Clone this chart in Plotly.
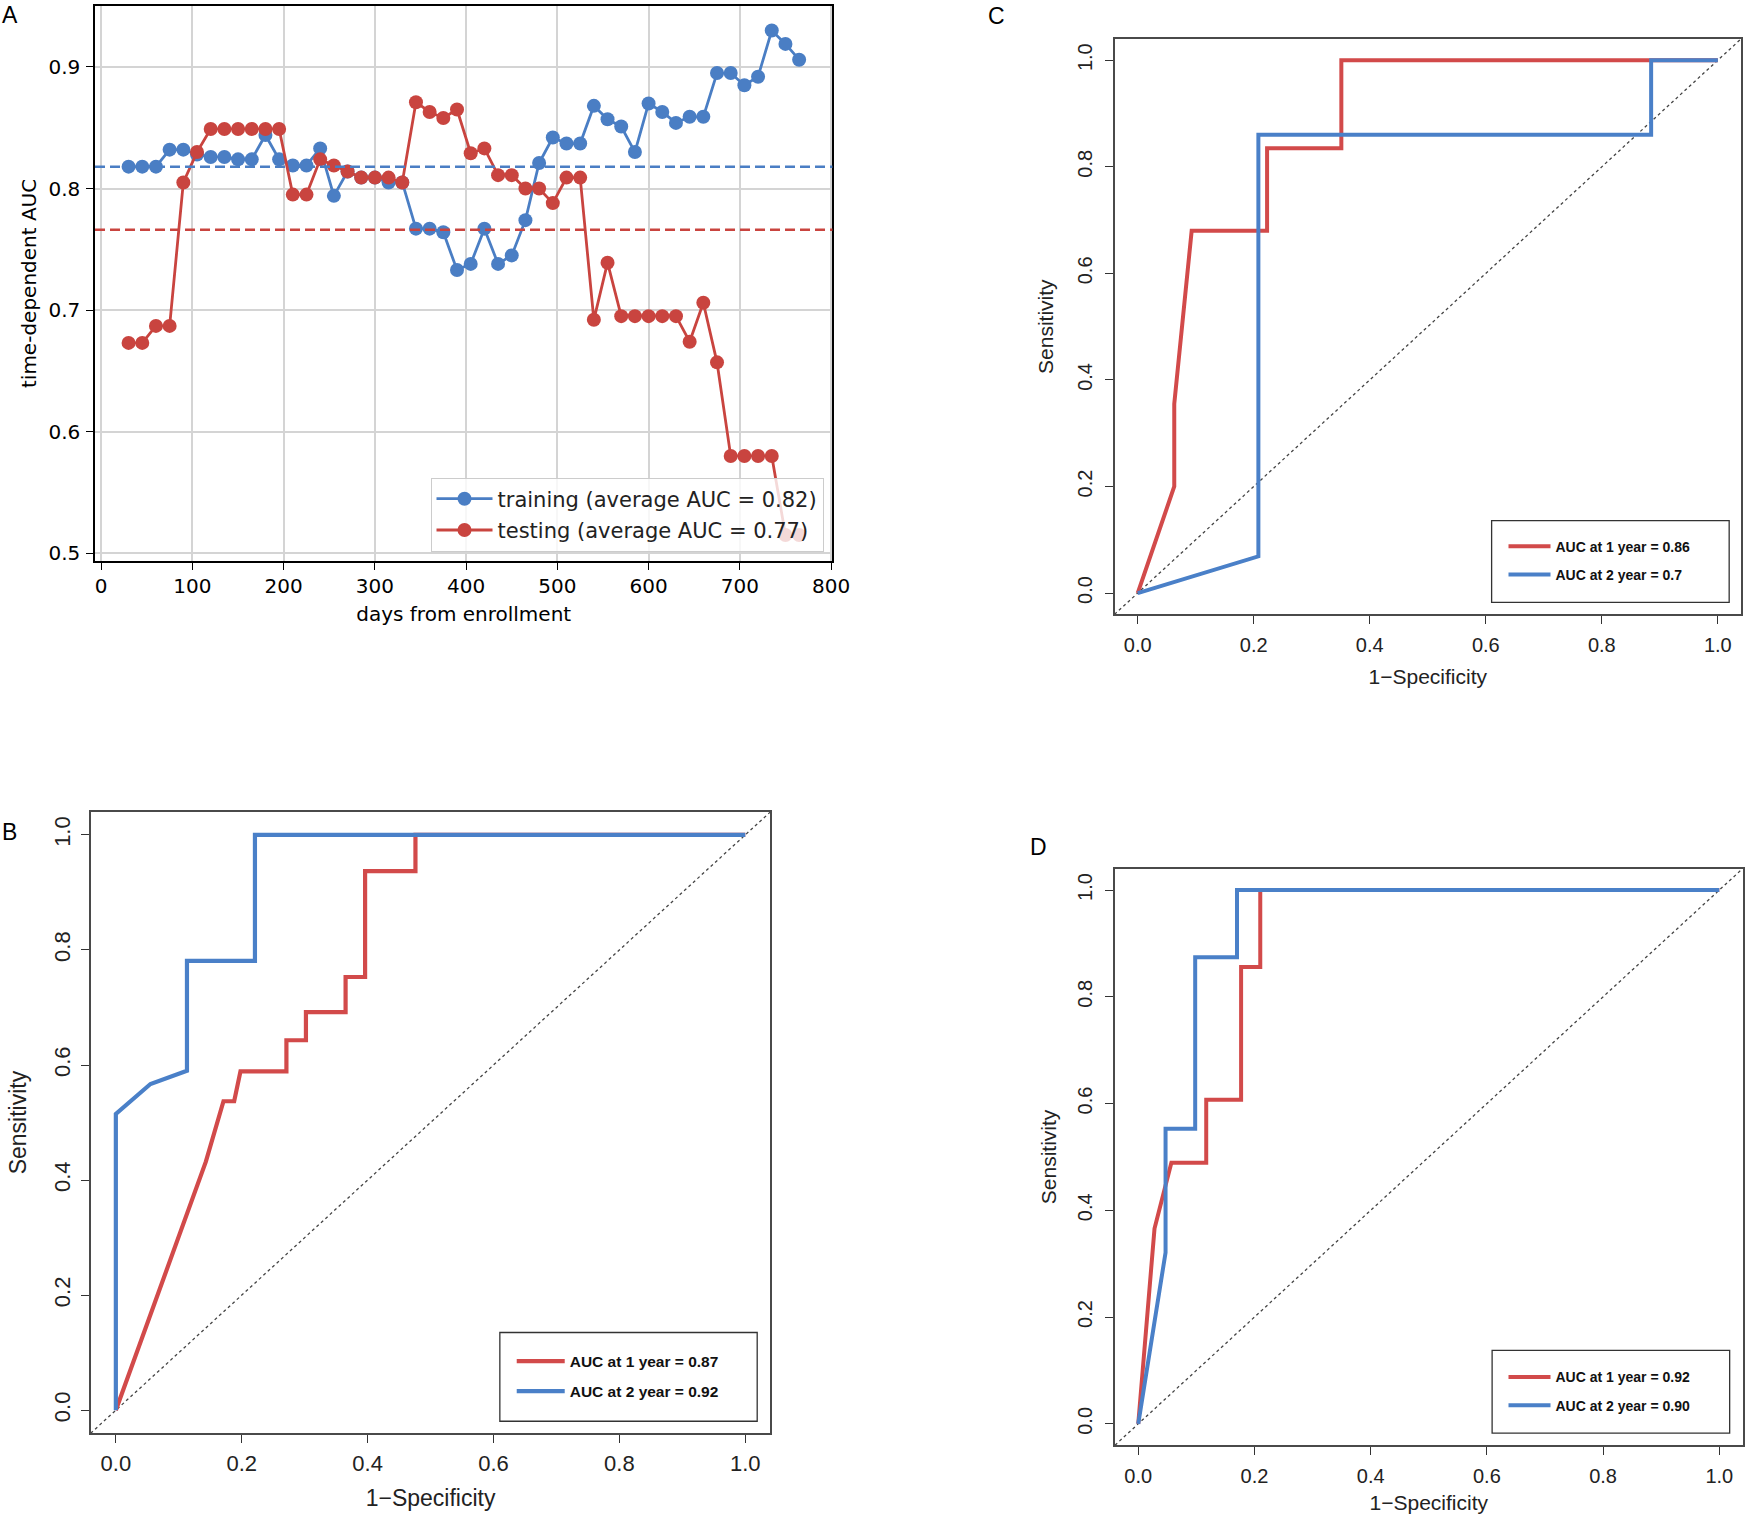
import plotly.graph_objects as go

W, H = 1764, 1522

# ---- panel A: time-dependent AUC ----
days = [30, 45, 60, 75, 90, 105, 120, 135, 150, 165, 180, 195, 210, 225, 240, 255, 270,
        285, 300, 315, 330, 345, 360, 375, 390, 405, 420, 435, 450, 465, 480, 495, 510,
        525, 540, 555, 570, 585, 600, 615, 630, 645, 660, 675, 690, 705, 720, 735, 750, 765]
auc_train = [0.818, 0.818, 0.818, 0.832, 0.832, 0.828, 0.826, 0.826, 0.824, 0.824,
             0.844, 0.824, 0.819, 0.819, 0.833, 0.794, 0.814, 0.809, 0.809, 0.805,
             0.805, 0.767, 0.767, 0.764, 0.733, 0.738, 0.767, 0.738, 0.745, 0.774,
             0.821, 0.842, 0.837, 0.837, 0.868, 0.857, 0.851, 0.830, 0.870, 0.863,
             0.854, 0.859, 0.859, 0.895, 0.895, 0.885, 0.892, 0.930, 0.919, 0.906]
auc_test = [0.673, 0.673, 0.687, 0.687, 0.805, 0.830, 0.849, 0.849, 0.849, 0.849,
            0.849, 0.849, 0.795, 0.795, 0.824, 0.819, 0.814, 0.809, 0.809, 0.809,
            0.805, 0.871, 0.863, 0.858, 0.865, 0.829, 0.833, 0.811, 0.811, 0.800,
            0.800, 0.788, 0.809, 0.809, 0.692, 0.739, 0.695, 0.695, 0.695, 0.695,
            0.695, 0.674, 0.706, 0.657, 0.580, 0.580, 0.580, 0.580, 0.515, 0.515]
mean_train = 0.818
mean_test = 0.766

# ---- ROC curves (1-specificity, sensitivity) ----
b_fpr_1y = [0.0, 0.143, 0.171, 0.188, 0.198, 0.271, 0.271, 0.302, 0.302, 0.365, 0.365, 0.396, 0.396, 0.476, 0.476, 1.0]
b_tpr_1y = [0.0, 0.432, 0.537, 0.537, 0.589, 0.589, 0.643, 0.643, 0.692, 0.692, 0.753, 0.753, 0.937, 0.937, 1.0, 1.0]
b_fpr_2y = [0.0, 0.0, 0.055, 0.113, 0.113, 0.221, 0.221, 1.0]
b_tpr_2y = [0.0, 0.515, 0.567, 0.590, 0.781, 0.781, 1.0, 1.0]

c_fpr_1y = [0.0, 0.063, 0.063, 0.093, 0.223, 0.223, 0.351, 0.351, 1.0]
c_tpr_1y = [0.0, 0.200, 0.355, 0.680, 0.680, 0.835, 0.835, 1.0, 1.0]
c_fpr_2y = [0.0, 0.208, 0.208, 0.885, 0.885, 1.0]
c_tpr_2y = [0.0, 0.069, 0.860, 0.860, 1.0, 1.0]

d_fpr_1y = [0.0, 0.028, 0.057, 0.117, 0.117, 0.177, 0.177, 0.210, 0.210, 1.0]
d_tpr_1y = [0.0, 0.366, 0.489, 0.489, 0.607, 0.607, 0.856, 0.856, 1.0, 1.0]
d_fpr_2y = [0.0, 0.047, 0.047, 0.098, 0.098, 0.170, 0.170, 1.0]
d_tpr_2y = [0.0, 0.321, 0.553, 0.553, 0.874, 0.874, 1.0, 1.0]

labels_b = ["AUC at 1 year = 0.87", "AUC at 2 year = 0.92"]
labels_c = ["AUC at 1 year = 0.86", "AUC at 2 year = 0.7"]
labels_d = ["AUC at 1 year = 0.92", "AUC at 2 year = 0.90"]

diag = [-0.04, 1.04]

BLUE_A, RED_A = "#4a7ec4", "#c9443f"
BLUE, RED = "#4a80c8", "#d24a4a"


def px_x(p):
    return min(1.0, max(0.0, p / W))


def px_y(p):
    return min(1.0, max(0.0, 1 - p / H))


fig = go.Figure()

# panel A traces
fig.add_trace(go.Scatter(x=days, y=auc_train, mode="lines+markers", name="training (average AUC = 0.82)",
                         line=dict(color=BLUE_A, width=2.8), marker=dict(size=14, color=BLUE_A),
                         xaxis="x", yaxis="y", legend="legend", legendgroup="tr"))
fig.add_trace(go.Scatter(x=days, y=auc_test, mode="lines+markers", name="testing (average AUC = 0.77)",
                         line=dict(color=RED_A, width=2.8), marker=dict(size=14, color=RED_A),
                         xaxis="x", yaxis="y", legend="legend", legendgroup="te"))

# ROC panels
panels = [
    ("x2", "y2", "legend2", b_fpr_1y, b_tpr_1y, b_fpr_2y, b_tpr_2y, labels_b, 4.2),
    ("x3", "y3", "legend3", c_fpr_1y, c_tpr_1y, c_fpr_2y, c_tpr_2y, labels_c, 4),
    ("x4", "y4", "legend4", d_fpr_1y, d_tpr_1y, d_fpr_2y, d_tpr_2y, labels_d, 4),
]
for xa, ya, lg, f1, t1, f2, t2, labs, lw in panels:
    fig.add_trace(go.Scatter(x=diag, y=diag, mode="lines", showlegend=False, hoverinfo="skip",
                             line=dict(color="#444444", width=1.3, dash="3px,3px"), xaxis=xa, yaxis=ya))
    fig.add_trace(go.Scatter(x=f1, y=t1, mode="lines", name=labs[0], line=dict(color=RED, width=lw),
                             xaxis=xa, yaxis=ya, legend=lg, legendgroup=lg + "a"))
    fig.add_trace(go.Scatter(x=f2, y=t2, mode="lines", name=labs[1], line=dict(color=BLUE, width=lw),
                             xaxis=xa, yaxis=ya, legend=lg, legendgroup=lg + "b"))

FA = "DejaVu Sans"
FR = "Liberation Sans"

axA = dict(showline=True, mirror=True, linecolor="black", linewidth=1.6, ticks="outside", ticklen=7,
           tickwidth=1.3, tickcolor="black", showgrid=True, gridcolor="#d4d4d4", gridwidth=1.5,
           zeroline=False, tickfont=dict(family=FA, size=20, color="black"))


def roc_axis(dom, anchor, size, stand, title, ttl_stand, vertical):
    a = dict(domain=dom, anchor=anchor, range=[-0.04, 1.04], tickvals=[0, 0.2, 0.4, 0.6, 0.8, 1.0],
             tickformat=".1f", showline=True, mirror=True, linecolor="#4a4a4a", linewidth=1.5,
             ticks="outside", ticklen=8, tickwidth=1.3, tickcolor="#333333", showgrid=False,
             zeroline=False, ticklabelstandoff=stand,
             tickfont=dict(family=FR, size=size, color="#222222"),
             title=dict(text=title, font=dict(family=FR, size=size + 1, color="#222222"), standoff=ttl_stand))
    if vertical:
        a["tickangle"] = -90
    return a


layout = dict(
    width=W, height=H, margin=dict(l=0, r=0, t=0, b=0),
    paper_bgcolor="white", plot_bgcolor="white", showlegend=True,
    xaxis=dict(axA, domain=[px_x(96), px_x(841)], anchor="y", range=[-6.8, 801.5], dtick=100,
               ticklabelstandoff=-1,
               title=dict(text="days from enrollment", font=dict(family=FA, size=20, color="black"), standoff=10)),
    yaxis=dict(axA, domain=[px_y(562.7), px_y(5.6)], anchor="x", range=[0.4934, 0.9505],
               tickvals=[0.5, 0.6, 0.7, 0.8, 0.9], tickformat=".1f", ticklabelstandoff=2,
               title=dict(text="time-dependent AUC", font=dict(family=FA, size=20, color="black"), standoff=6)),
    xaxis2=roc_axis([px_x(91.6), px_x(778.4)], "y2", 22, 2, "1\u2212Specificity", 15, False),
    yaxis2=roc_axis([px_y(1437), px_y(814)], "x2", 22, 2, "Sensitivity", 17, True),
    xaxis3=roc_axis([px_x(1126), px_x(1759)], "y3", 20, 4, "1\u2212Specificity", 14, False),
    yaxis3=roc_axis([px_y(616), px_y(39)], "x3", 20, 5, "Sensitivity", 14, True),
    xaxis4=roc_axis([px_x(1126.5), px_x(1760.5)], "y4", 20, 4, "1\u2212Specificity", 9, False),
    yaxis4=roc_axis([px_y(1449), px_y(871)], "x4", 20, 5, "Sensitivity", 12, True),
    legend=dict(x=px_x(832), xanchor="right", y=px_y(553), yanchor="bottom",
                bgcolor="rgba(255,255,255,0.8)", bordercolor="#cccccc", borderwidth=1,
                font=dict(family=FA, size=21, color="#222222"), tracegroupgap=1, itemwidth=56),
)
leg_font = dict(family=FR, size=14, color="#111111", weight="bold")
for name, lx, ly, size, iw in [("legend2", 517, 1348, 15.5, 48), ("legend3", 1519, 532, 14, 42),
                               ("legend4", 1519, 1365, 14, 42)]:
    layout[name] = dict(x=px_x(lx), xanchor="left", y=px_y(ly), yanchor="top", bgcolor="rgba(0,0,0,0)",
                        borderwidth=0, font=dict(leg_font, size=size), tracegroupgap=7, itemwidth=iw)

fig.update_layout(**layout)

# legend frames of the R panels
for x0, y0, x1, y1 in [(505, 1336, 765, 1425), (1507, 522, 1747, 604), (1507.5, 1354, 1747.5, 1437)]:
    fig.add_shape(type="rect", xref="paper", yref="paper", x0=px_x(x0), x1=px_x(x1), y0=px_y(y1), y1=px_y(y0),
                  line=dict(color="#333333", width=1.3), fillcolor="rgba(0,0,0,0)", layer="above")

# mean AUC lines
for val, col in [(mean_train, BLUE_A), (mean_test, RED_A)]:
    fig.add_shape(type="line", xref="x domain", yref="y", x0=0, x1=1, y0=val, y1=val,
                  line=dict(color=col, width=2.5, dash="10px,5px"), layer="above")

# panel letters
for txt, x, y in [("A", 10, 15), ("B", 10, 834), ("C", 1007, 16), ("D", 1049, 849)]:
    fig.add_annotation(text=txt, x=px_x(x), y=px_y(y), xref="paper", yref="paper", showarrow=False,
                       xanchor="center", yanchor="middle", font=dict(family=FR, size=23, color="black"))

# the page body has a default 8px margin; drop it so the figure fills the window
fig.write_html("out.html", config={"displayModeBar": False},
               post_script="document.body.style.margin = '0px';")
